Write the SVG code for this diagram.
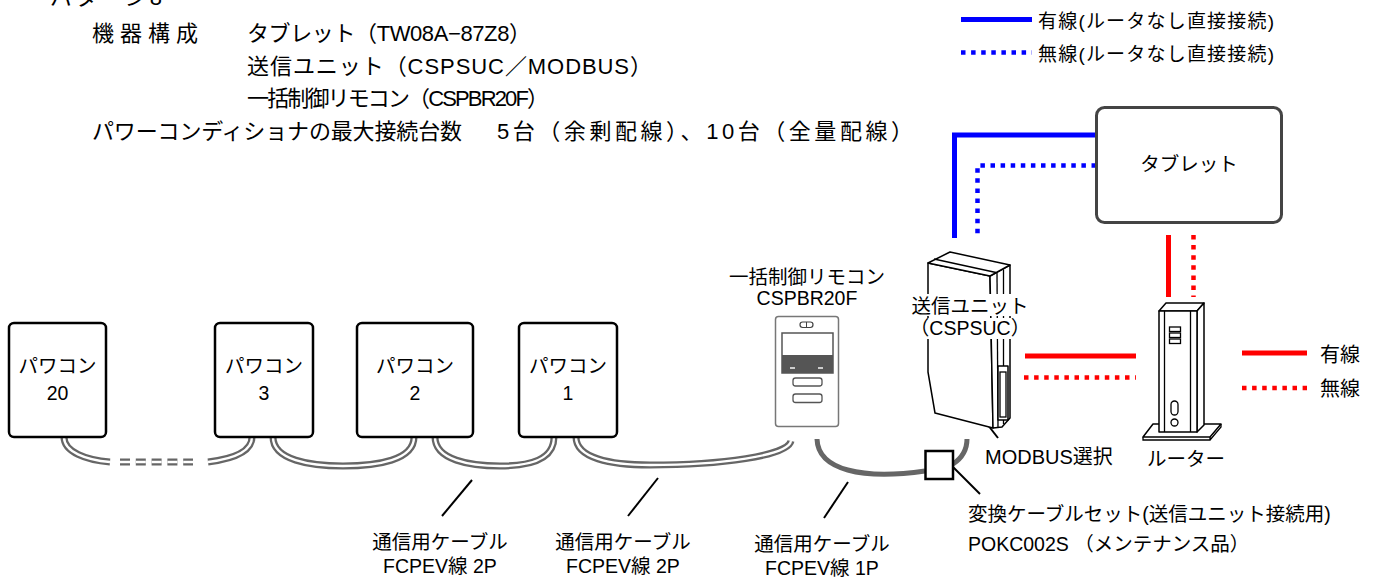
<svg xmlns="http://www.w3.org/2000/svg" width="1376" height="578" viewBox="0 0 1376 578">
  <style>
    text { font-family: "Liberation Sans", "Noto Sans CJK JP", sans-serif; fill: #000; }
    .h { font-size: 22px; }
    .lg { font-size: 19px; }
    .lb { font-size: 19.5px; }
    .mid { text-anchor: middle; }
    .pcs { fill: #fff; stroke: #000; stroke-width: 2.5; }
    .tab { fill: #fff; stroke: #444; stroke-width: 3; }
    .blue { stroke: #0000ff; stroke-width: 5; fill: none; }
    .blue-dot { stroke: #0000ff; stroke-width: 4.5; stroke-dasharray: 4.5 5.6; fill: none; }
    .red { stroke: #ff0000; stroke-width: 5; fill: none; }
    .red-dot { stroke: #ff0000; stroke-width: 4.5; stroke-dasharray: 4.5 5.6; fill: none; }
    .cab-o { stroke: #666; stroke-width: 7; fill: none; }
    .cab-i { stroke: #fff; stroke-width: 2.4; fill: none; }
    .thick { stroke: #666; stroke-width: 5; fill: none; stroke-linecap: butt; }
    .lead { stroke: #000; stroke-width: 2; fill: none; }
    .dev { fill: #fff; stroke: #000; stroke-width: 1.5; stroke-linejoin: round; }
    .devl { fill: none; stroke: #000; stroke-width: 1.3; }
    .rc { fill: #fff; stroke: #777; stroke-width: 1.5; }
  </style>

  <!-- header text -->
  <g id="header">
    <text class="h" x="50" y="5" textLength="112">パターン8</text>
    <text class="h" x="92" y="41" textLength="106">機器構成</text>
    <text class="h" x="247" y="41" textLength="284">タブレット（TW08A−87Z8）</text>
    <text class="h" x="247" y="74" textLength="405">送信ユニット（CSPSUC／MODBUS）</text>
    <text class="h" x="247" y="106" textLength="302">一括制御リモコン（CSPBR20F）</text>
    <text class="h" x="92" y="139" textLength="370">パワーコンディショナの最大接続台数</text>
    <text class="h" x="497" y="139" textLength="416">5台（余剰配線）、10台（全量配線）</text>
  </g>

  <!-- legends -->
  <g id="legend-blue">
    <line class="blue" x1="961" y1="19.5" x2="1032" y2="19.5"/>
    <text class="lg" x="1038" y="28" textLength="236">有線(ルータなし直接接続)</text>
    <line class="blue-dot" x1="961" y1="52.5" x2="1032" y2="52.5"/>
    <text class="lg" x="1038" y="61" textLength="236">無線(ルータなし直接接続)</text>
  </g>
  <g id="legend-red">
    <line class="red" x1="1242" y1="353" x2="1307" y2="353"/>
    <text x="1320" y="362" font-size="20">有線</text>
    <line class="red-dot" x1="1242" y1="388" x2="1307" y2="388"/>
    <text x="1320" y="396" font-size="20">無線</text>
  </g>

  <!-- connectors -->
  <g id="connectors">
    <!-- tablet to transmission unit (direct) -->
    <path class="blue" d="M1096,135 H954.5 V238"/>
    <path class="blue-dot" d="M1096,165.5 H977.5 V238"/>
    <!-- tablet to router -->
    <line class="red" x1="1168.5" y1="235" x2="1168.5" y2="297"/>
    <line class="red-dot" x1="1193.5" y1="235" x2="1193.5" y2="297"/>
    <!-- transmission unit to router -->
    <line class="red" x1="1025" y1="356" x2="1136" y2="356"/>
    <line class="red-dot" x1="1024" y1="377.5" x2="1136" y2="377.5"/>

    <!-- communication cables between power conditioners (double line) -->
    <g id="cables">
      <path class="cab-o" d="M64,437 C64,452 86,460 110,462"/>
      <path class="cab-i" d="M64,437 C64,452 86,460 110,462"/>
      <line class="cab-o" x1="120" y1="462" x2="193" y2="462" stroke-dasharray="10 5.8"/>
      <line class="cab-i" x1="120" y1="462" x2="193" y2="462" stroke-dasharray="10 5.8"/>
      <path class="cab-o" d="M208,462 C232,459 252,452 252,437"/>
      <path class="cab-i" d="M208,462 C232,459 252,452 252,437"/>

      <path class="cab-o" d="M273,437 C273,460 310,466 343,466 C378,466 414,460 414,437"/>
      <path class="cab-i" d="M273,437 C273,460 310,466 343,466 C378,466 414,460 414,437"/>

      <path class="cab-o" d="M435,437 C435,460 470,466 500,466 C530,466 554,460 554,437"/>
      <path class="cab-i" d="M435,437 C435,460 470,466 500,466 C530,466 554,460 554,437"/>

      <path class="cab-o" d="M576,437 C576,458 610,465 650,465 C720,465 788,456 791,441"/>
      <path class="cab-i" d="M576,437 C576,458 610,465 650,465 C720,465 788,456 791,441"/>
    </g>

    <!-- conversion cable set -->
    <path class="thick" d="M817,439 C818,470 862,480 925,471"/>
    <path class="thick" d="M953,464 C962,458 967,450 967,439"/>

    <!-- label leaders -->
    <line class="lead" x1="472" y1="480" x2="442" y2="516"/>
    <line class="lead" x1="658" y1="478" x2="628" y2="516"/>
    <line class="lead" x1="848" y1="482" x2="824" y2="518"/>
    <line class="lead" x1="953" y1="467" x2="980" y2="494"/>
    <line class="lead" x1="970" y1="402" x2="998" y2="438"/>
  </g>

  <!-- power conditioners -->
  <g id="pcs-20">
    <rect class="pcs" x="9" y="323" width="97" height="114" rx="5"/>
    <text class="lb mid" x="57.5" y="373">パワコン</text>
    <text class="lb mid" x="57.5" y="400">20</text>
  </g>
  <g id="pcs-3">
    <rect class="pcs" x="215" y="323" width="98" height="114" rx="5"/>
    <text class="lb mid" x="264" y="373">パワコン</text>
    <text class="lb mid" x="264" y="400">3</text>
  </g>
  <g id="pcs-2">
    <rect class="pcs" x="357" y="323" width="116" height="114" rx="5"/>
    <text class="lb mid" x="415" y="373">パワコン</text>
    <text class="lb mid" x="415" y="400">2</text>
  </g>
  <g id="pcs-1">
    <rect class="pcs" x="519" y="323" width="98" height="114" rx="5"/>
    <text class="lb mid" x="568" y="373">パワコン</text>
    <text class="lb mid" x="568" y="400">1</text>
  </g>

  <!-- batch control remote -->
  <g id="remote">
    <text class="lb mid" x="807" y="284">一括制御リモコン</text>
    <text class="lb mid" x="807" y="305">CSPBR20F</text>
    <rect class="rc" x="775.5" y="316.5" width="63" height="110" rx="3"/>
    <rect x="800" y="322" width="13" height="5.5" rx="2.7" fill="#fff" stroke="#444" stroke-width="1.2"/>
    <line x1="806.5" y1="322" x2="806.5" y2="327.5" stroke="#444" stroke-width="1"/>
    <rect x="782" y="333" width="51" height="40" fill="#fff" stroke="#555" stroke-width="1.5"/>
    <rect x="782" y="355" width="51" height="18" fill="#555"/>
    <rect x="790" y="367" width="5" height="2" fill="#ccc"/>
    <rect x="818" y="367" width="5" height="2" fill="#ccc"/>
    <rect x="793" y="378" width="29" height="8" rx="2.5" fill="#fff" stroke="#555" stroke-width="1.3"/>
    <rect x="793" y="394" width="29" height="8.5" rx="2.5" fill="#fff" stroke="#555" stroke-width="1.3"/>
  </g>

  <!-- transmission unit -->
  <g id="unit">
    <path class="dev" d="M928,263 L990,276 L993,428 L935,413 L928,372 Z"/>
    <path class="dev" d="M990,276 L1010,265 L1010,418 L1002,427 L993,428 Z"/>
    <path class="dev" d="M928,263 L950,252 L1010,265 L990,276 Z"/>
    <path class="devl" d="M934,259 L996,272.5"/>
    <line class="devl" x1="997" y1="273" x2="998" y2="427"/>
    <line class="devl" x1="1003.5" y1="269.5" x2="1003.5" y2="424"/>
    <rect class="dev" x="998" y="366" width="10" height="54"/>
    <rect class="devl" x="1000" y="372" width="6" height="45"/>
    <rect x="912" y="294" width="116" height="22" fill="#fff"/>
    <rect x="914" y="318" width="112" height="21" fill="#fff"/>
    <text class="lb mid" x="970" y="313">送信ユニット</text>
    <text class="lb mid" x="970" y="335">（CSPSUC）</text>
    <text x="985" y="464" font-size="20">MODBUS選択</text>
  </g>

  <!-- conversion cable set connector -->
  <g id="converter">
    <rect x="925.5" y="451" width="27.5" height="28" fill="#fff" stroke="#000" stroke-width="2.5"/>
    <text class="lb" x="968" y="521">変換ケーブルセット(送信ユニット接続用)</text>
    <text class="lb" x="968" y="551">POKC002S （メンテナンス品）</text>
  </g>

  <!-- router -->
  <g id="router">
    <path class="dev" d="M1143,437 L1153,424 L1213,424 L1221,424 L1210,437 Z"/>
    <path class="devl" d="M1143,437 L1143,440 L1210,440 L1210,437 M1210,440 L1221,427 L1221,424"/>
    <path class="dev" d="M1159,311 L1166,303 L1204,303 L1197,311 Z"/>
    <path class="dev" d="M1197,311 L1204,303 L1204,425 L1197,432 Z"/>
    <rect class="dev" x="1159" y="311" width="38" height="121"/>
    <line class="devl" x1="1164.5" y1="311" x2="1164.5" y2="432"/>
    <line class="devl" x1="1190.5" y1="311" x2="1190.5" y2="432"/>
    <rect class="devl" x="1169.5" y="327" width="11" height="4.5"/>
    <rect class="devl" x="1169.5" y="333" width="11" height="4.5"/>
    <rect class="devl" x="1169.5" y="339" width="11" height="4.5"/>
    <rect class="devl" x="1171" y="401" width="7" height="14" rx="3.5"/>
    <circle class="devl" cx="1174.5" cy="422.5" r="3.5"/>
    <text class="lb" x="1147" y="466">ルーター</text>
  </g>

  <!-- tablet -->
  <g id="tablet">
    <rect class="tab" x="1096.5" y="107.5" width="185" height="115" rx="8"/>
    <text class="lb mid" x="1189" y="171">タブレット</text>
  </g>

  <!-- cable labels -->
  <g id="cable-labels">
    <text class="lb mid" x="440" y="549">通信用ケーブル</text>
    <text class="lb mid" x="440" y="573">FCPEV線 2P</text>
    <text class="lb mid" x="623" y="549">通信用ケーブル</text>
    <text class="lb mid" x="623" y="573">FCPEV線 2P</text>
    <text class="lb mid" x="822" y="551">通信用ケーブル</text>
    <text class="lb mid" x="822" y="575">FCPEV線 1P</text>
  </g>
</svg>
